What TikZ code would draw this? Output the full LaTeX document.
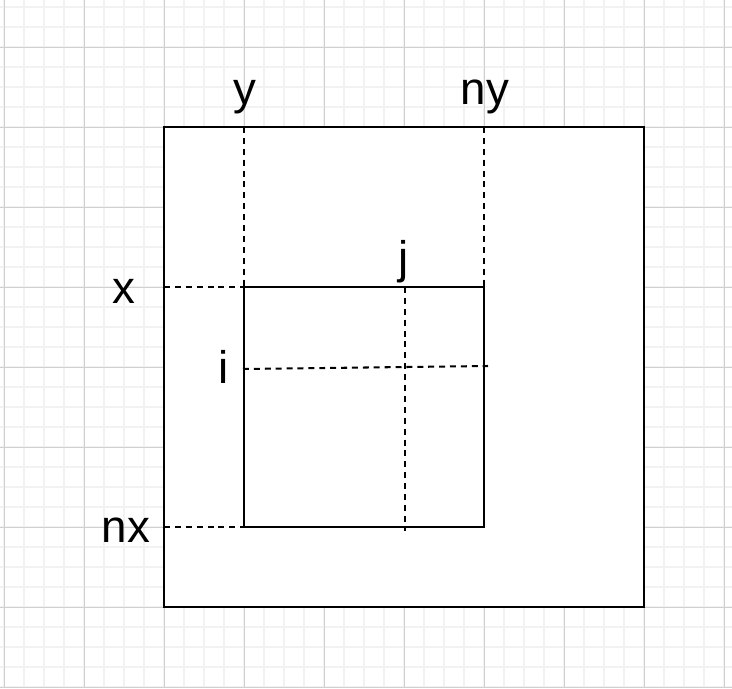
\documentclass[tikz,border=0pt]{standalone}
\usepackage{fontspec}
\setmainfont{Liberation Sans}
\usetikzlibrary{positioning}
\definecolor{gridminor}{HTML}{F2F2F2}
\definecolor{gridmajor}{HTML}{D0D0D0}

\begin{document}
\begin{tikzpicture}[
    x=1cm, y=-1cm,
    minor/.style={draw=gridminor, line width=2.8pt},
    major/.style={draw=gridmajor, line width=1.4pt},
    box/.style={draw, fill=white, line width=3.3pt, inner sep=0pt, outer sep=0pt},
    guide/.style={draw, line width=2.9pt, dash pattern=on 8.5pt off 7pt},
    lbl/.style={anchor=base, inner sep=0pt, font=\fontsize{65}{78}\selectfont}
]

\useasboundingbox (-0.2,-0.35) rectangle (36.4,34.05);

% Background grid
\foreach \u in {0,...,36} \draw[minor] (\u,-0.35) -- (\u,34.05);
\foreach \v in {0,...,34} \draw[minor] (-0.2,\v) -- (36.4,\v);
\foreach \u in {0,4,...,36} \draw[major] (\u,-0.35) -- (\u,34.05);
\foreach \v in {2,6,...,34} \draw[major] (-0.2,\v) -- (36.4,\v);

% Outer and inner squares
\node[box, minimum size=24cm] (outer) at (20,18) {};
\node[box, minimum size=12cm] (inner) at (18,20) {};

% Free ends of the i and j guides
\coordinate (j0) at (20.05,14);
\coordinate (j1) at (20.05,26.2);
\coordinate (i0) at (11.95,18.1);
\coordinate (i1) at (24.2,17.95);

% Labels
\node[lbl] (ly) at (12.05,4.85) {y};
\node[lbl] (lny) at (24.05,4.85) {ny};
\node[lbl] (lx) at (6.0,14.8) {x};
\node[lbl] (li) at (11.0,18.8) {i};
\node[lbl] (lj) at (20,13.3) {j};
\node[lbl] (lnx) at (6.1,26.75) {nx};

% Dashed guides
\draw[guide] (inner.north west |- outer.north) -- (inner.north west);
\draw[guide] (inner.north east |- outer.north) -- (inner.north east);
\draw[guide] (outer.west |- inner.north west) -- (inner.north west);
\draw[guide] (outer.west |- inner.south west) -- (inner.south west);
\draw[guide] (j0) -- (j1);
\draw[guide] (i0) -- (i1);

\end{tikzpicture}
\end{document}
